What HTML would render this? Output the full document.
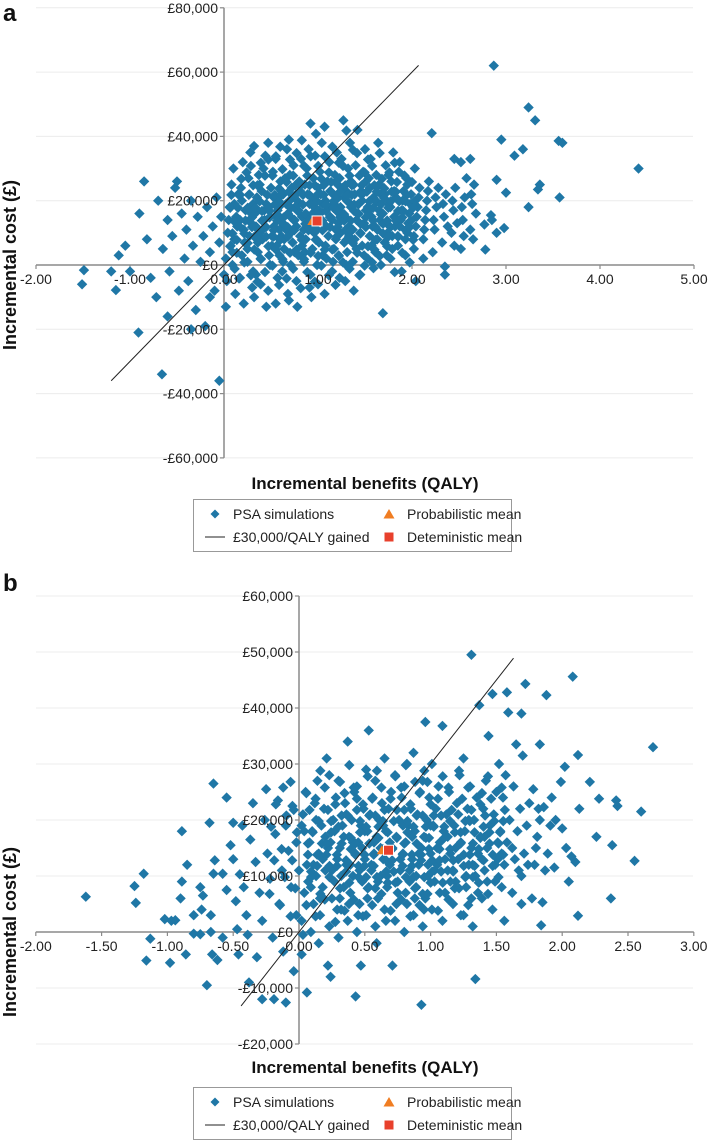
<!DOCTYPE html>
<html><head><meta charset="utf-8"><style>
html,body{margin:0;padding:0;background:#fff;}
svg{display:block;font-family:"Liberation Sans",Arial,sans-serif;}
</style></head><body>
<svg id="chart" width="708" height="1141" viewBox="0 0 708 1141">
<text x="3" y="21" font-size="24" font-weight="bold" fill="#111">a</text>
<text x="3" y="591" font-size="24" font-weight="bold" fill="#111">b</text>
<g id="panelA"></g>
<g id="panelB"></g>
</svg>
<script>
// ---------- Panel A data (benefit QALY, cost in £ thousands) ----------
const xTicksA = [-2,-1,0,1,2,3,4,5];
const xTickLabelsA = ["-2.00","-1.00","0.00","1.00","2.00","3.00","4.00","5.00"];
const yTicksA = [80,60,40,20,0,-20,-40,-60];
const yTickLabelsA = ["£80,000","£60,000","£40,000","£20,000","£0","-£20,000","-£40,000","-£60,000"];
const extraA = [[-1.49,-1.6],[-1.51,-6],[-1.15,-7.8],[-1.12,3],[-1.05,6],[-1.0,-2],[-0.91,-21],[-0.85,26],[-0.82,8],[-0.78,-4],[-0.72,-10],[-0.66,-34],[-0.65,5],[-0.6,14],[-0.58,-2],[-0.55,9],[-0.52,24],[-0.5,26],[-0.48,-8],[-0.45,16],[-0.42,2],[-0.4,11],[-0.38,-5],[-0.35,20],[-0.33,6],[-0.3,-14],[-0.28,15],[-0.25,1],[-0.22,9],[-0.2,-19],[-0.18,18],[-0.15,4],[-0.12,12],[-0.1,-8],[-0.08,21],[-0.05,-36],[-0.05,7],[-0.03,15],[0,-3],[0.02,-13],[-0.6,-16],[-0.9,16],[-1.2,-2],[-0.7,20],[-0.35,-20],[-0.15,-10],
[2.87,62],[3.24,49],[3.31,45],[2.95,39],[3.56,38.6],[3.6,38],[3.18,36],[3.09,34],[4.41,30],[2.9,26.5],[3.0,22.5],[3.36,25],[3.34,23.5],[3.57,21],[3.24,18],[2.84,15.5],[2.85,14],[2.77,12.6],[2.9,10],[2.98,11.5],[2.78,4.8],[2.35,-0.5],[2.21,41],[2.45,33],[2.52,32],[2.62,33]];
const bandXA = [0.05,0.12,0.2,0.28,0.35,0.42,0.5,0.58,0.65,0.72,0.8,0.88,0.95,1.02,1.1,1.18,1.25,1.32,1.4,1.48,1.56,1.64,1.72,1.8,1.88,1.96,2.05,2.15,2.25,2.35,2.45,2.55,2.65];
const bandCostA = [
[2,10,18,25,-5,14,6],[0,8,15,22,30,-9,12,4,19],[-4,3,11,17,24,32,7,14,20,-12],[1,9,13,19,27,35,-7,5,22,16,-2],
[-10,-3,4,10,16,21,28,37,12,7,25],[2,8,14,19,23,30,34,-6,11,17,-13],[-8,0,6,12,18,24,29,38,15,9,21,3],[-12,-4,3,9,15,20,26,33,17,11,23,6],
[-2,5,11,16,22,27,36,13,8,19,-9,1],[-11,0,7,14,18,24,31,39,10,21,4,28],[-5,3,9,15,20,26,33,12,17,23,6,-13],[1,8,13,19,25,30,36,11,16,22,-7,4],
[-3,5,10,16,21,27,34,44,12,18,8,-10],[0,7,14,19,24,29,38,11,17,22,3,-6],[-9,2,9,15,20,26,32,43,12,18,23,6],[-2,5,11,17,22,28,35,14,19,8,25,1],
[3,10,16,21,27,33,45,13,18,24,7,-4],[-5,4,12,18,23,30,38,15,20,9,26,0],[1,8,14,19,25,31,42,11,22,5,16,-8],[-3,6,13,17,23,29,36,10,20,3,26],
[2,9,15,21,27,33,12,18,24,6,-1],[4,11,17,22,28,38,14,20,8,25,0],[-15,7,13,19,24,31,10,16,22,3,28],[2,9,15,21,26,35,12,18,5,23],
[6,12,17,23,29,14,20,9,32,-2],[3,10,16,22,27,13,19,8,25],[5,12,18,24,30,15,21,9,-5],[8,14,20,26,11,17,23,2],
[4,11,18,24,14,21],[7,15,22,12,19,-3],[10,17,24,13,20,6],[5,14,21,27,18,9],[11,19,25,16,22,8]];
const bandX2A = [0.09,0.16,0.24,0.31,0.38,0.46,0.54,0.61,0.69,0.76,0.84,0.91,0.99,1.06,1.14,1.21,1.29,1.36,1.44,1.52,1.6,1.68,1.76,1.84,1.92,2.0];
const bandCost2A = [
[5,13,21,-2,9,17],[3,11,17,26,-5,7,21],[0,6,13,21,28,9,17],[-4,4,11,17,24,30,8,14],
[-6,1,7,13,19,24,31,10,16],[-3,5,11,16,21,27,32,8,14],[-1,4,10,15,21,27,33,8,13,18],[-7,1,7,12,18,23,29,36,14,21],
[-5,3,8,14,19,25,32,11,17,22],[-2,4,10,16,21,27,34,13,18,24],[-8,1,7,12,18,24,30,38,15,21],[-3,3,10,15,21,27,33,13,18,24],
[-6,2,7,13,19,24,30,40,15,21],[-1,4,10,16,21,26,33,13,18,24],[-4,4,11,17,22,28,36,14,19,25],[-7,2,8,14,20,25,31,16,22,11],
[0,7,13,19,24,30,41,15,21,10],[-2,6,10,16,21,27,35,13,18,24],[3,9,15,21,27,34,12,18,24,-4],[-1,5,11,16,22,28,32,14,19],
[0,7,13,19,24,30,11,17,22,4],[2,9,15,20,26,34,12,18,23],[5,11,17,22,28,13,19,8],[-3,8,13,19,25,31,16,22],
[3,10,16,21,27,14,19],[0,7,13,19,25,11,17]];
const meanA = [0.99,13.7];

// ---------- Panel B data ----------
const xTicksB = [-2,-1.5,-1,-0.5,0,0.5,1,1.5,2,2.5,3];
const xTickLabelsB = ["-2.00","-1.50","-1.00","-0.50","0.00","0.50","1.00","1.50","2.00","2.50","3.00"];
const yTicksB = [60,50,40,30,20,10,0,-10,-20];
const yTickLabelsB = ["£60,000","£50,000","£40,000","£30,000","£20,000","£10,000","£0","-£10,000","-£20,000"];
const extraB = [[-1.62,6.3],[-1.25,8.2],[-1.24,5.2],[-1.18,10.4],[-1.13,-1.2],[-1.16,-5.1],[-1.02,2.3],[-0.97,2],[-0.94,2.1],[-0.98,-5.5],[-0.89,9],[-0.9,6],[-0.85,12],[-0.86,-4],[-0.89,18],[-0.8,-0.3],[-0.75,-0.4],[-0.75,8],[-0.73,6.5],[-0.74,4],[-0.8,3],[-0.7,-9.5],[-0.67,3],[-0.67,0],[-0.66,-4],[-0.64,12.8],[-0.65,10.4],[-0.65,26.5],[-0.68,19.5],[-0.55,24],[-0.58,10.4],[-0.55,7.5],[-0.52,15.5],[-0.5,19.5],[-0.5,13],[-0.48,5.5],[-0.47,0.5],[-0.46,-4],[-0.45,10.3],[-0.43,19],[-0.42,8],[-0.4,3],[-0.39,-0.5],[-0.37,16.5],[-0.35,23],[-0.33,12.5],[-0.32,-4.5],[-0.3,7],[-0.28,2],[-0.26,20],[-0.25,25.5],[-0.24,14],[-0.22,9.5],[-0.2,-1],[-0.19,-12],[-0.18,17.5],[-0.16,23.5],[-0.15,5],[-0.13,11],[-0.12,-3.5],[-0.1,19],[-0.1,-12.6],[-0.08,14.5],[-0.06,8],[-0.05,22.5],[-0.04,-7],[-0.02,3],[-0.02,16],[0,11],[0.02,19],[0.03,-0.5],[-0.28,-12],[-0.38,-9],[-0.58,-1],[-0.62,-5],
[1.31,49.5],[2.08,45.6],[1.69,39],[1.83,33.5],[2.12,31.6],[2.02,29.5],[2.21,26.8],[2.28,23.8],[2.41,23.5],[2.42,22.5],[2.6,21.5],[2.69,33],[2.38,15.5],[2.26,17],[2.55,12.7],[2.37,6],[2.12,2.9],[2.05,9],[1.84,1.2],[1.94,11.5],[2.07,13.5],[2.0,18.5],[2.1,12.5],[1.99,26.8],[2.13,22],[1.95,20],[2.03,15],[1.92,24]];
const bandXB = [0.05,0.12,0.19,0.26,0.33,0.4,0.47,0.54,0.61,0.68,0.76,0.83,0.9,0.97,1.04,1.12,1.2,1.28,1.35,1.42,1.5,1.57,1.65,1.72,1.8,1.88];
const bandCostB = [
[2,7,12,16,21,25,9,-4,18,-10.8],[0,5,10,14,18,23,27,8,12,20,-2],[3,8,11,15,19,22,31,6,13,17,-6],[1,6,9,13,16,20,24,28,11,18,4,-8],
[-1,4,8,12,15,19,23,27,10,17,21,6],[2,7,10,14,17,20,25,34,12,16,-11.5,5],[0,5,9,13,16,19,22,26,11,15,18,3,-6],[3,8,11,14,18,21,24,29,36,12,16,6],
[1,6,10,13,17,20,23,27,9,15,19,-2],[4,8,12,15,18,22,25,31,10,16,-6,2],[2,7,11,14,17,20,24,28,9,13,19,5],[0,5,9,13,16,19,22,26,30,11,17,7],
[3,8,12,15,18,21,25,32,10,14,-13,6],[1,6,10,14,17,20,24,27,37.5,12,19,4],[4,9,12,16,19,22,26,30,11,15,7],[2,7,11,14,18,21,25,36.8,13,17,9],
[5,9,13,16,19,23,28,11,15,21,3],[3,8,12,15,18,22,26,31,10,20,6],[1,10,14,17,20,24,40.5,12,-8.4,7],[6,11,15,19,22,27,35,13,17,9],
[4,9,13,18,21,25,30,42.5,12,16],[8,12,16,20,24,28,39.2,14,2,42.8],[7,13,18,22,26,33.5,11,15],[10,14,19,23,31.5,44.3,12,5],
[6,12,17,20,25.5,15,22],[5.3,11,14,19,22.3,42.3]];
const bandX2B = [-0.2,-0.12,-0.04,0.08,0.15,0.22,0.3,0.37,0.44,0.51,0.58,0.65,0.72,0.8,0.87,0.94,1.0,1.08,1.16,1.24,1.31,1.39,1.46,1.54];
const bandCost2B = [
[6,12,18,22],[4,9,14,20,25],[2,7,12,17,21,26],[4,9,13,17,21,24,10,15],
[2,6,11,15,19,23,28,13],[5,9,13,17,21,25,11,15,19],[1,7,11,15,18,22,26,13,20],[3,8,12,16,20,24,29,10,14],
[5,9,13,17,21,25,11,15,19,23],[2,7,11,15,18,22,27,13,20,9],[4,9,13,16,20,23,28,11,18,7],[6,10,14,17,21,25,12,19,8],
[3,8,12,16,19,23,27,14,21,10],[5,9,13,17,21,25,29,11,19,15],[2,7,11,15,18,22,26,13,20,9],[4,9,13,16,20,24,28,12,18,6],
[6,10,14,18,22,26,12,16,20,8],[3,8,12,16,20,23,27,14,18,10],[5,10,14,17,21,25,12,19,7],[7,11,15,19,23,28,13,17,9],
[4,9,13,17,21,25,15,19,11],[8,12,16,20,24,14,18,22],[6,11,15,19,23,27,13,17],[9,13,17,21,25,15,19]];
const meanB = [0.68,14.6];
const wtp = 30; // £k per QALY
const lineXA = [-1.2,2.07];
const lineXB = [-0.44,1.63];

const NS="http://www.w3.org/2000/svg";
function mk(parent,tag,attrs){const e=document.createElementNS(NS,tag);for(const k in attrs)e.setAttribute(k,attrs[k]);parent.appendChild(e);return e;}

function drawPanel(g,cfg){
  const sx=v=>cfg.x0+v*cfg.xs, sy=v=>cfg.y0-v*cfg.ys;
  cfg.yTicks.forEach((t,i)=>{
    const gl=mk(g,'line',{x1:36,x2:693,y1:sy(t),y2:sy(t),stroke:'#ececec','stroke-width':1});
    
    
  });
  const xa=mk(g,'line',{x1:sx(cfg.xTicks[0]),x2:sx(cfg.xTicks[cfg.xTicks.length-1]),y1:cfg.y0,y2:cfg.y0,stroke:'#8a8a8a','stroke-width':1.5});
  
  
  const ya=mk(g,'line',{x1:cfg.x0,x2:cfg.x0,y1:sy(cfg.yTicks[0]),y2:sy(cfg.yTicks[cfg.yTicks.length-1]),stroke:'#8a8a8a','stroke-width':1.5});
  
  
  cfg.xTicks.forEach((t,i)=>{
    const tk=mk(g,'line',{x1:sx(t),x2:sx(t),y1:cfg.y0,y2:cfg.y0+4,stroke:'#8a8a8a','stroke-width':1.2});
    
    
  });
  cfg.yTicks.forEach((t,i)=>{
    const tk=mk(g,'line',{x1:cfg.x0-4,x2:cfg.x0,y1:sy(t),y2:sy(t),stroke:'#8a8a8a','stroke-width':1.2});
    
    
  });
  const pts=cfg.extra.slice();
  cfg.bandX.forEach((bx,i)=>cfg.bandCost[i].forEach((c,j)=>pts.push([bx+((j*37)%7-3)*0.01,c])));
  cfg.bandX2.forEach((bx,i)=>cfg.bandCost2[i].forEach((c,j)=>pts.push([bx+((j*23)%5-2)*0.012,c+0.8])));
  pts.forEach(p=>{
    const x=sx(p[0]),y=sy(p[1]),r=5.2;
    const d=mk(g,'path',{d:`M${x} ${y-r}L${x+r} ${y}L${x} ${y+r}L${x-r} ${y}Z`,fill:'#1f77a6'});
    
    
  });
  const wl=mk(g,'line',{x1:sx(cfg.lineX[0]),y1:sy(cfg.lineX[0]*wtp),x2:sx(cfg.lineX[1]),y2:sy(cfg.lineX[1]*wtp),stroke:'#222','stroke-width':1});
  
  
  const tx=sx(cfg.mean[0]-0.05),ty=sy(cfg.mean[1]);
  const tri=mk(g,'path',{d:`M${tx} ${ty-5}L${tx+5} ${ty+4}L${tx-5} ${ty+4}Z`,fill:'#f07d22'});
  
  
  const sq=mk(g,'rect',{x:sx(cfg.mean[0])-5,y:sy(cfg.mean[1])-5,width:10,height:10,fill:'#e8402c',stroke:'#fff','stroke-width':1});
  
  
  cfg.xTicks.forEach((t,i)=>{
    const tl=mk(g,'text',{x:sx(t),y:cfg.y0+19,'font-size':14,fill:'#222','text-anchor':'middle'});
    tl.textContent=cfg.xLabels[i];
    
    
  });
  cfg.yTicks.forEach((t,i)=>{
    const tl=mk(g,'text',{x:cfg.x0-6,y:sy(t)+5,'font-size':14,fill:'#222','text-anchor':'end'});
    tl.textContent=cfg.yLabels[i];
    
    
  });
  const xt=mk(g,'text',{x:365,y:cfg.xTitleY,'font-size':17,'font-weight':'bold',fill:'#111','text-anchor':'middle'});
  xt.textContent='Incremental benefits (QALY)';
  
  
  const yt=mk(g,'text',{x:16,y:cfg.y0,'font-size':18,'font-weight':'bold',fill:'#111','text-anchor':'middle',transform:`rotate(-90 16 ${cfg.y0})`});
  yt.textContent='Incremental cost (£)';
  
  
  const L=cfg.legTop;
  const lg=mk(g,'g',{});
  
  
  mk(lg,'rect',{x:193.5,y:L+0.5,width:318,height:52,fill:'#fff',stroke:'#999','stroke-width':1});
  const r1=L+15, r2=L+38;
  mk(lg,'path',{d:`M215 ${r1-4.5}L219.5 ${r1}L215 ${r1+4.5}L210.5 ${r1}Z`,fill:'#1f77a6'});
  mk(lg,'line',{x1:205,x2:225,y1:r2,y2:r2,stroke:'#222','stroke-width':1});
  mk(lg,'path',{d:`M389 ${r1-5}L394.5 ${r1+4.5}L383.5 ${r1+4.5}Z`,fill:'#f07d22'});
  mk(lg,'rect',{x:384.5,y:r2-4.5,width:9,height:9,fill:'#e8402c'});
  [['PSA simulations',233,r1],['£30,000/QALY gained',233,r2],['Probabilistic mean',407,r1],['Deteministic mean',407,r2]].forEach(a=>{
    const t=mk(lg,'text',{x:a[1],y:a[2]+5,'font-size':14,fill:'#222'});
    t.textContent=a[0];
    
    
  });
}
drawPanel(document.getElementById('panelA'),{x0:224,xs:94,y0:265,ys:3.215,xTicks:xTicksA,xLabels:xTickLabelsA,yTicks:yTicksA,yLabels:yTickLabelsA,extra:extraA,bandX:bandXA,bandCost:bandCostA,bandX2:bandX2A,bandCost2:bandCost2A,mean:meanA,lineX:lineXA,xTitleY:489,legTop:499});
drawPanel(document.getElementById('panelB'),{x0:299,xs:131.6,y0:932,ys:5.6,xTicks:xTicksB,xLabels:xTickLabelsB,yTicks:yTicksB,yLabels:yTickLabelsB,extra:extraB,bandX:bandXB,bandCost:bandCostB,bandX2:bandX2B,bandCost2:bandCost2B,mean:meanB,lineX:lineXB,xTitleY:1073,legTop:1087});
</script>
</body></html>
